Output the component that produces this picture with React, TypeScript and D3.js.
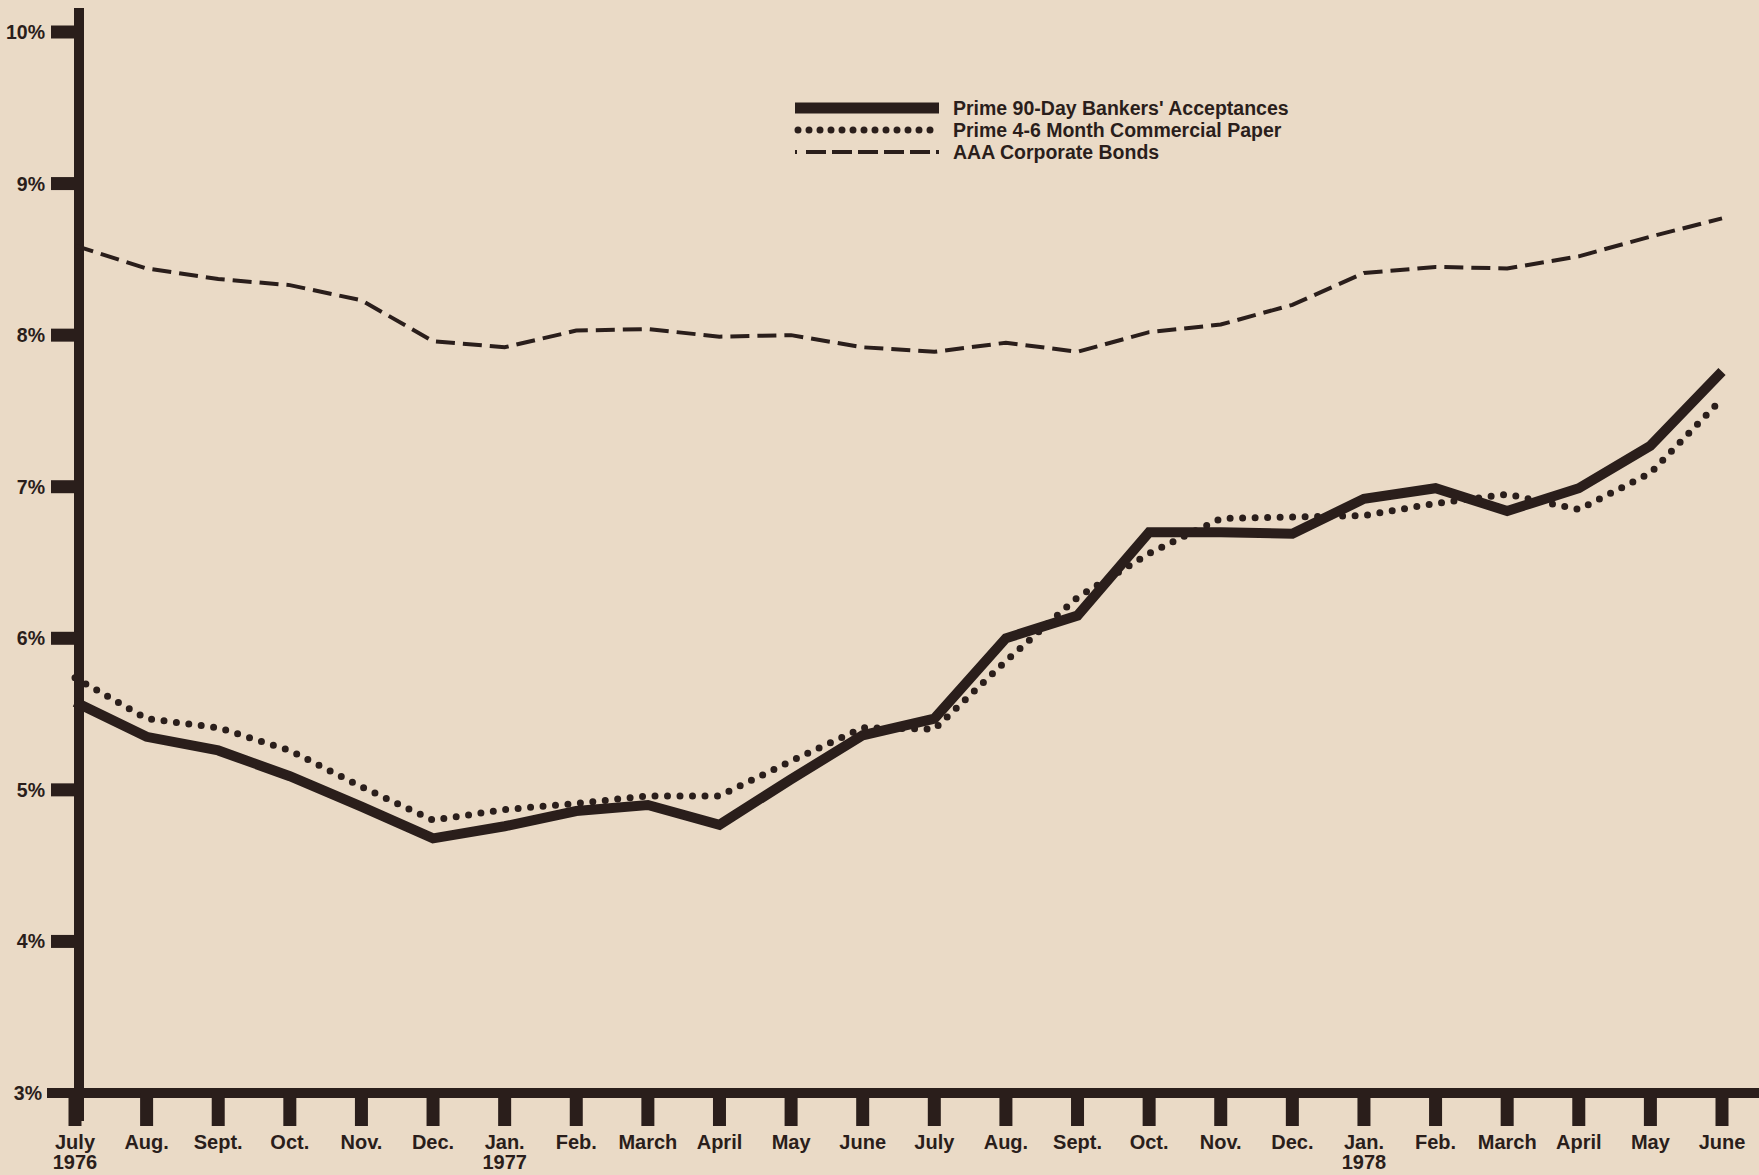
import React, { useEffect, useRef } from 'react'
import * as d3 from 'd3'

// month labels (two lines: month, year)
const MONTHS: [string, string][] = [
  ['July', '1976'], ['Aug.', ''], ['Sept.', ''], ['Oct.', ''], ['Nov.', ''], ['Dec.', ''],
  ['Jan.', '1977'], ['Feb.', ''], ['March', ''], ['April', ''], ['May', ''], ['June', ''],
  ['July', ''], ['Aug.', ''], ['Sept.', ''], ['Oct.', ''], ['Nov.', ''], ['Dec.', ''],
  ['Jan.', '1978'], ['Feb.', ''], ['March', ''], ['April', ''], ['May', ''], ['June', '']
]

const Y_TICKS = [3, 4, 5, 6, 7, 8, 9, 10]

// Prime 90-Day Bankers' Acceptances
const BANKERS = [
  5.58, 5.35, 5.26, 5.09, 4.89, 4.68, 4.76, 4.86, 4.9, 4.77, 5.07, 5.36,
  5.47, 6.0, 6.15, 6.7, 6.7, 6.69, 6.92, 6.99, 6.84, 6.99, 7.27, 7.76
]

// Prime 4-6 Month Commercial Paper
const PAPER = [
  5.74, 5.47, 5.41, 5.26, 5.02, 4.8, 4.87, 4.91, 4.96, 4.96, 5.19, 5.41,
  5.4, 5.85, 6.27, 6.56, 6.79, 6.8, 6.81, 6.89, 6.95, 6.85, 7.09, 7.58
]

// AAA Corporate Bonds
const BONDS = [
  8.59, 8.44, 8.37, 8.33, 8.23, 7.96, 7.92, 8.03, 8.04, 7.99, 8.0, 7.92,
  7.89, 7.95, 7.89, 8.02, 8.07, 8.2, 8.41, 8.45, 8.44, 8.52, 8.65, 8.77
]

const LEGEND = [
  { label: "Prime 90-Day Bankers' Acceptances", kind: 'solid' },
  { label: 'Prime 4-6 Month Commercial Paper', kind: 'dotted' },
  { label: 'AAA Corporate Bonds', kind: 'dashed' }
]

const INK = '#2a1e1b'
const BG = '#eadac6'
const FONT = '"Liberation Sans", Arial, Helvetica, sans-serif'

const W = 1759
const H = 1175

export default function App() {
  const svgRef = useRef<SVGSVGElement>(null)

  useEffect(() => {
    if (!svgRef.current) return
    const svg = d3.select(svgRef.current)
    svg.selectAll('*').remove()

    svg.append('rect').attr('width', W).attr('height', H).attr('fill', BG)

    const x = d3.scalePoint<number>()
      .domain(d3.range(MONTHS.length))
      .range([75, 1722])

    const y = d3.scaleLinear()
      .domain([3, 10])
      .range([1093, 32])

    const axisX = 79
    const baseY = y(3)

    // y axis line
    svg.append('line')
      .attr('x1', axisX).attr('x2', axisX)
      .attr('y1', 8).attr('y2', 1121)
      .attr('stroke', INK).attr('stroke-width', 10)

    // x axis line
    svg.append('line')
      .attr('x1', 47).attr('x2', W)
      .attr('y1', baseY).attr('y2', baseY)
      .attr('stroke', INK).attr('stroke-width', 10)

    // y ticks (blocks to the left of the axis)
    const yt = svg.append('g')
    yt.selectAll('rect')
      .data(Y_TICKS.filter(d => d !== 3))
      .enter().append('rect')
      .attr('x', 51)
      .attr('y', d => y(d) - 6.5)
      .attr('width', axisX - 51)
      .attr('height', 13)
      .attr('fill', INK)

    yt.selectAll('text')
      .data(Y_TICKS)
      .enter().append('text')
      .attr('x', d => (d === 3 ? 42 : 45))
      .attr('y', d => y(d))
      .attr('dy', '0.36em')
      .attr('text-anchor', 'end')
      .style('font-family', FONT)
      .style('font-weight', 'bold')
      .style('font-size', '19.5px')
      .attr('fill', INK)
      .text(d => `${d}%`)

    // x ticks hanging below the axis
    const xt = svg.append('g')
    xt.selectAll('rect')
      .data(MONTHS.map((_, i) => i))
      .enter().append('rect')
      .attr('x', i => (x(i) as number) - 6.5)
      .attr('y', baseY)
      .attr('width', 13)
      .attr('height', 1126 - baseY)
      .attr('fill', INK)

    const labels = xt.selectAll('g.lbl')
      .data(MONTHS)
      .enter().append('g')
      .attr('class', 'lbl')
      .attr('transform', (_, i) => `translate(${x(i)},0)`)

    labels.append('text')
      .attr('y', 1149)
      .attr('text-anchor', 'middle')
      .style('font-family', FONT)
      .style('font-weight', 'bold')
      .style('font-size', '20px')
      .attr('fill', INK)
      .text(d => d[0])

    labels.append('text')
      .attr('y', 1169)
      .attr('text-anchor', 'middle')
      .style('font-family', FONT)
      .style('font-weight', 'bold')
      .style('font-size', '20px')
      .attr('fill', INK)
      .text(d => d[1])

    const line = d3.line<number>()
      .x((_, i) => x(i) as number)
      .y(d => y(d))

    // AAA corporate bonds, dashed
    svg.append('path')
      .attr('d', line(BONDS))
      .attr('fill', 'none')
      .attr('stroke', INK)
      .attr('stroke-width', 4)
      .attr('stroke-dasharray', '19 8')

    // commercial paper, dotted
    svg.append('path')
      .attr('d', line(PAPER))
      .attr('fill', 'none')
      .attr('stroke', INK)
      .attr('stroke-width', 7)
      .attr('stroke-linecap', 'round')
      .attr('stroke-dasharray', '0 12.5')

    // bankers' acceptances, solid
    svg.append('path')
      .attr('d', line(BANKERS))
      .attr('fill', 'none')
      .attr('stroke', INK)
      .attr('stroke-width', 10)
      .attr('stroke-linejoin', 'miter')

    // legend
    const legend = svg.append('g').attr('transform', 'translate(795,108)')
    const items = legend.selectAll('g')
      .data(LEGEND)
      .enter().append('g')
      .attr('transform', (_, i) => `translate(0,${i * 22})`)

    items.append('line')
      .attr('x1', d => (d.kind === 'dotted' ? 3 : 0))
      .attr('x2', 144)
      .attr('y1', 0).attr('y2', 0)
      .attr('stroke', INK)
      .attr('stroke-width', d => (d.kind === 'solid' ? 11 : d.kind === 'dotted' ? 7 : 4))
      .attr('stroke-linecap', d => (d.kind === 'dotted' ? 'round' : 'butt'))
      .attr('stroke-dasharray', d => (d.kind === 'dotted' ? '0 11' : d.kind === 'dashed' ? '2 9 20 6 20 6 20 6 20 6 20 6 20' : null))

    items.append('text')
      .attr('x', 158)
      .attr('y', 0)
      .attr('dy', '0.36em')
      .style('font-family', FONT)
      .style('font-weight', 'bold')
      .style('font-size', '19.5px')
      .attr('fill', INK)
      .text(d => d.label)
  }, [])

  return (
    <svg
      ref={svgRef}
      width={W}
      height={H}
      style={{ position: 'absolute', left: 0, top: 0, display: 'block' }}
    />
  )
}
